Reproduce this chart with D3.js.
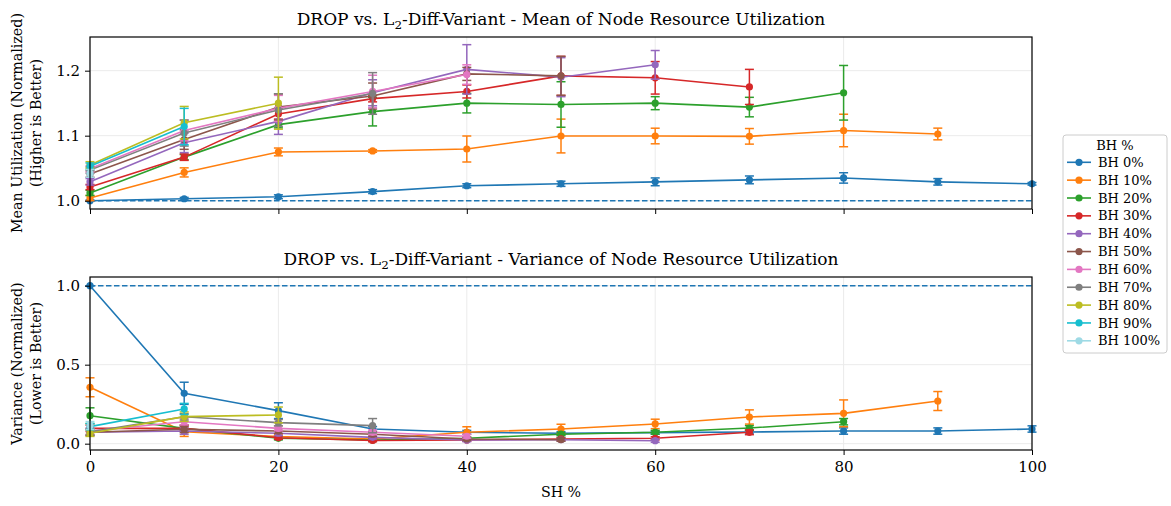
<!DOCTYPE html>
<html>
<head>
<meta charset="utf-8">
<script src="https://cdn.jsdelivr.net/npm/d3@7"></script>
<style>
  html, body { margin: 0; padding: 0; background: #fff; }
  svg { display: block; }
  text { font-family: "DejaVu Serif", "Liberation Serif", serif; fill: #000; }
</style>
</head>
<body>
<div id="chart"></div>
<script>
// SH share on the x axis
const shLevels = [0, 10, 20, 30, 40, 50, 60, 70, 80, 90, 100];

// one series per BH share
const bhLabels = ["BH 0%", "BH 10%", "BH 20%", "BH 30%", "BH 40%", "BH 50%",
                  "BH 60%", "BH 70%", "BH 80%", "BH 90%", "BH 100%"];

const seriesColors = ["#1f77b4", "#ff7f0e", "#2ca02c", "#d62728", "#9467bd", "#8c564b",
                      "#e377c2", "#7f7f7f", "#bcbd22", "#17becf", "#9edae5"];

// mean of node resource utilization (normalized), row = BH level, column = SH level
const meanUtil = [
  [1.000, 1.003, 1.006, 1.014, 1.023, 1.026, 1.029, 1.032, 1.035, 1.029, 1.026],
  [1.004, 1.0435, 1.075, 1.0765, 1.0795, 1.0995, 1.0995, 1.099, 1.108, 1.1026],
  [1.012, 1.067, 1.117, 1.137, 1.150, 1.148, 1.150, 1.144, 1.166],
  [1.021, 1.067, 1.1335, 1.157, 1.168, 1.192, 1.189, 1.175],
  [1.029, 1.089, 1.122, 1.166, 1.202, 1.190, 1.209],
  [1.041, 1.094, 1.144, 1.161, 1.195, 1.192],
  [1.049, 1.108, 1.142, 1.168, 1.194],
  [1.047, 1.104, 1.1395, 1.165],
  [1.055, 1.120, 1.150],
  [1.053, 1.114],
  [1.042]
];

// error half-widths for the mean
const meanUtilErr = [
  [0.001, 0.002, 0.003, 0.003, 0.003, 0.004, 0.006, 0.006, 0.008, 0.005, 0.002],
  [0.004, 0.007, 0.006, 0.002, 0.020, 0.026, 0.012, 0.012, 0.025, 0.009],
  [0.004, 0.004, 0.005, 0.022, 0.015, 0.035, 0.010, 0.015, 0.042],
  [0.004, 0.005, 0.008, 0.005, 0.010, 0.030, 0.025, 0.027],
  [0.005, 0.015, 0.020, 0.020, 0.038, 0.030, 0.022],
  [0.005, 0.015, 0.020, 0.020, 0.010, 0.030],
  [0.005, 0.016, 0.020, 0.025, 0.015],
  [0.005, 0.020, 0.025, 0.032],
  [0.005, 0.025, 0.040],
  [0.005, 0.028],
  [0.006]
];

// variance of node resource utilization (normalized)
const varUtil = [
  [1.000, 0.319, 0.209, 0.093, 0.072, 0.066, 0.070, 0.074, 0.080, 0.080, 0.093],
  [0.357, 0.076, 0.045, 0.030, 0.072, 0.093, 0.125, 0.169, 0.192, 0.270],
  [0.177, 0.097, 0.034, 0.023, 0.034, 0.060, 0.072, 0.099, 0.139],
  [0.097, 0.098, 0.038, 0.020, 0.023, 0.030, 0.034, 0.072],
  [0.072, 0.080, 0.066, 0.040, 0.023, 0.025, 0.019],
  [0.072, 0.091, 0.080, 0.060, 0.030, 0.025],
  [0.080, 0.139, 0.097, 0.072, 0.047],
  [0.076, 0.170, 0.133, 0.114],
  [0.066, 0.171, 0.182],
  [0.108, 0.220],
  [0.115]
];

const varUtilErr = [
  [0.000, 0.070, 0.050, 0.015, 0.012, 0.010, 0.010, 0.012, 0.020, 0.020, 0.020],
  [0.060, 0.030, 0.015, 0.010, 0.035, 0.030, 0.030, 0.045, 0.085, 0.060],
  [0.050, 0.020, 0.010, 0.008, 0.008, 0.010, 0.012, 0.015, 0.020],
  [0.020, 0.020, 0.010, 0.008, 0.008, 0.008, 0.010, 0.015],
  [0.020, 0.020, 0.015, 0.010, 0.010, 0.008, 0.010],
  [0.020, 0.020, 0.015, 0.015, 0.010, 0.010],
  [0.020, 0.020, 0.015, 0.015, 0.012],
  [0.020, 0.020, 0.020, 0.045],
  [0.020, 0.030, 0.050],
  [0.020, 0.035],
  [0.025]
];

const xTicks = [0, 20, 40, 60, 80, 100];
const meanTicks = [1.0, 1.1, 1.2];
const varTicks = [0.0, 0.5, 1.0];

const W = 1171, H = 506;
const svg = d3.select("#chart").append("svg").attr("width", W).attr("height", H);

const plotLeft = 90, plotRight = 1032;
const x = d3.scaleLinear().domain([0, 100]).range([plotLeft, plotRight]);

// font size that makes a string span the given width
function sizeFor(str, width) {
  const probe = svg.append("text").attr("font-size", 14).text(str);
  const w = probe.node().getComputedTextLength();
  probe.remove();
  return 14 * width / w;
}

const titleSize = sizeFor("DROP vs. L2-Diff-Variant - Mean of Node Resource Utilization", 532);
const labelSize = sizeFor("Mean Utilization (Normalized)", 220);

function drawPanel(cfg) {
  const { top, bottom, domain, ticks, values, errors, titleMain, ylab1, ylab2, showXLabels } = cfg;
  const y = d3.scaleLinear().domain(domain).range([bottom, top]);
  const g = svg.append("g");

  // grid
  g.append("g").selectAll("line").data(ticks).join("line")
    .attr("x1", plotLeft).attr("x2", plotRight)
    .attr("y1", d => y(d)).attr("y2", d => y(d))
    .attr("stroke", "#ebebeb").attr("stroke-width", 1);
  g.append("g").selectAll("line").data(xTicks).join("line")
    .attr("x1", d => x(d)).attr("x2", d => x(d))
    .attr("y1", top).attr("y2", bottom)
    .attr("stroke", "#ebebeb").attr("stroke-width", 1);

  // baseline at 1.0
  g.append("line")
    .attr("x1", plotLeft).attr("x2", plotRight)
    .attr("y1", y(1)).attr("y2", y(1))
    .attr("stroke", seriesColors[0]).attr("stroke-width", 1.5)
    .attr("stroke-dasharray", "5.5,2.5");

  const line = d3.line().x((d, i) => x(shLevels[i])).y(d => y(d));

  values.forEach((row, s) => {
    const col = seriesColors[s];
    const sg = g.append("g");
    // error bars
    row.forEach((v, i) => {
      const e = errors[s][i];
      const cx = x(shLevels[i]);
      const y1 = y(v - e), y2 = y(v + e);
      sg.append("line").attr("x1", cx).attr("x2", cx).attr("y1", y1).attr("y2", y2)
        .attr("stroke", col).attr("stroke-width", 1.5);
      [y1, y2].forEach(yy => sg.append("line")
        .attr("x1", cx - 4.5).attr("x2", cx + 4.5).attr("y1", yy).attr("y2", yy)
        .attr("stroke", col).attr("stroke-width", 1.5));
    });
    sg.append("path").attr("d", line(row)).attr("fill", "none")
      .attr("stroke", col).attr("stroke-width", 1.6);
    sg.selectAll("circle").data(row).join("circle")
      .attr("cx", (d, i) => x(shLevels[i])).attr("cy", d => y(d)).attr("r", 3.6)
      .attr("fill", col);
  });

  // axes
  const yAxis = d3.axisLeft(y).tickValues(ticks).tickFormat(d3.format(".1f"))
    .tickSize(5).tickSizeOuter(0).tickPadding(5);
  const ya = g.append("g").attr("transform", `translate(${plotLeft},0)`).call(yAxis);
  const xAxis = d3.axisBottom(x).tickValues(xTicks).tickFormat(showXLabels ? d3.format("d") : () => "")
    .tickSize(5).tickSizeOuter(0).tickPadding(6);
  const xa = g.append("g").attr("transform", `translate(0,${bottom})`).call(xAxis);
  [ya, xa].forEach(a => {
    a.select(".domain").remove();
    a.selectAll(".tick line").attr("stroke", "#000").attr("stroke-width", 1);
    a.selectAll(".tick text").attr("font-family", "DejaVu Serif").attr("font-size", 15).attr("fill", "#000");
  });

  // frame
  g.append("rect").attr("x", plotLeft).attr("y", top)
    .attr("width", plotRight - plotLeft).attr("height", bottom - top)
    .attr("fill", "none").attr("stroke", "#000").attr("stroke-width", 1.2);

  // title with subscript
  const t = svg.append("text").attr("x", (plotLeft + plotRight) / 2).attr("y", top - 12)
    .attr("text-anchor", "middle").attr("font-size", titleSize);
  t.append("tspan").text("DROP vs. L");
  t.append("tspan").text("2").attr("font-size", titleSize * 0.7).attr("baseline-shift", "-30%");
  t.append("tspan").text(titleMain);

  // y label, two lines
  const cy = (top + bottom) / 2;
  const yl = svg.append("text").attr("transform", `translate(0,${cy}) rotate(-90)`)
    .attr("text-anchor", "middle").attr("font-size", labelSize);
  yl.append("tspan").attr("x", 0).attr("y", 22).text(ylab1);
  yl.append("tspan").attr("x", 0).attr("y", 41).text(ylab2);
}

drawPanel({
  top: 37, bottom: 209, domain: [0.9872, 1.2518], ticks: meanTicks,
  values: meanUtil, errors: meanUtilErr,
  titleMain: "-Diff-Variant - Mean of Node Resource Utilization",
  ylab1: "Mean Utilization (Normalized)", ylab2: "(Higher is Better)",
  showXLabels: false
});
drawPanel({
  top: 277, bottom: 450, domain: [-0.04, 1.055], ticks: varTicks,
  values: varUtil, errors: varUtilErr,
  titleMain: "-Diff-Variant - Variance of Node Resource Utilization",
  ylab1: "Variance (Normalized)", ylab2: "(Lower is Better)",
  showXLabels: true
});

// x label
svg.append("text").attr("x", (plotLeft + plotRight) / 2).attr("y", 497)
  .attr("text-anchor", "middle").attr("font-size", labelSize).text("SH %");

// legend
const lg = svg.append("g").attr("transform", "translate(1063,135)");
lg.append("rect").attr("width", 104).attr("height", 218).attr("rx", 3)
  .attr("fill", "#fff").attr("stroke", "#cccccc").attr("stroke-width", 1);
lg.append("text").attr("x", 52).attr("y", 15).attr("text-anchor", "middle")
  .attr("font-size", 13).text("BH %");
const items = lg.selectAll("g.item").data(bhLabels).join("g")
  .attr("transform", (d, i) => `translate(0,${27.3 + i * 17.85})`);
items.append("line").attr("x1", 4).attr("x2", 28).attr("y1", 0).attr("y2", 0)
  .attr("stroke", (d, i) => seriesColors[i]).attr("stroke-width", 1.6);
items.append("circle").attr("cx", 16).attr("cy", 0).attr("r", 3.6)
  .attr("fill", (d, i) => seriesColors[i]);
items.append("text").attr("x", 35).attr("y", 4.6).attr("font-size", 13).text(d => d);
</script>
</body>
</html>
